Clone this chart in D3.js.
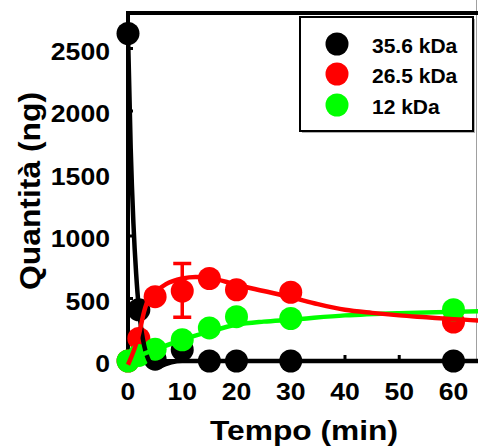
<!DOCTYPE html>
<html>
<head>
<meta charset="utf-8">
<style type="text/css">
body { margin: 0; background: #fff; }
text { font-family: "Liberation Sans", Arial, sans-serif; font-weight: bold; fill: #000; }
.fit { fill: none; stroke-width: 4.5; stroke-linejoin: round; }
</style>
<script src="https://d3js.org/d3.v7.min.js"></script>
</head>
<body>
<script type="text/javascript">
var width  = 478;
var height = 447;

// measured points (min, ng)
var tempo    = [0, 2, 5, 10, 15, 20, 30, 60];
var kda356   = [2620, 410, 15, 90, 0, 0, 0, 0];
var kda265   = [0, 180, 515, 560, 660, 570, 550, 312];
var kda12    = [0, 45, 95, 170, 265, 355, 340, 410];
var errT     = [10];
var errLo    = [350];
var errHi    = [780];

// fitted curves
var fitT356  = [0, 0.5, 1, 1.5, 2, 2.5, 3, 3.5, 4, 5, 6, 8, 10, 20, 66];
var fit356   = [2620, 1700, 1100, 700, 420, 240, 120, 40, -10, -50, -40, -10, 0, 0, 0];
var fitT265  = [0, 2, 3, 3.7, 5, 7, 10, 12.5, 15, 20, 25, 30, 35, 40, 45, 50, 55, 60, 66];
var fit265   = [-30, 210, 400, 490, 550, 615, 660, 672, 665, 610, 560, 510, 455, 410, 385, 365, 350, 335, 322];
var fitT12   = [0, 2, 5, 10, 15, 20, 25, 30, 40, 50, 60, 66];
var fit12    = [0, 40, 90, 170, 235, 290, 315, 330, 365, 383, 393, 399];

var xTicks   = [0, 10, 20, 30, 40, 50, 60];
var yTicks   = [0, 500, 1000, 1500, 2000, 2500];
var legNames = ["35.6 kDa", "26.5 kDa", "12 kDa"];
var colori   = ["#000000", "#ff0000", "#00ff00"];

var x = d3.scaleLinear().domain([0, 65]).range([128, 480.6]);
var y = d3.scaleLinear().domain([0, 2800]).range([361, 11]);

var svg = d3.select("body").append("svg").attr("width", width).attr("height", height);

// frame
svg.append("line").attr("x1", 476.5).attr("x2", 476.5).attr("y1", 0).attr("y2", 360)
	.attr("stroke", "#a0a0a0").attr("stroke-width", 1);
svg.append("path")
	.attr("d", "M" + width + "," + y(2785) + "H" + x(0) + "V" + y(0) + "H" + width)
	.attr("fill", "none").attr("stroke", "#000").attr("stroke-width", 4);

// ticks inside
svg.selectAll(".yt").data(yTicks).enter().append("line")
	.attr("x1", x(0)).attr("x2", x(0) + 5)
	.attr("y1", function(d){ return y(d); }).attr("y2", function(d){ return y(d); })
	.attr("stroke", "#000").attr("stroke-width", 3);
svg.selectAll(".xt").data(xTicks).enter().append("line")
	.attr("x1", function(d){ return x(d); }).attr("x2", function(d){ return x(d); })
	.attr("y1", y(0)).attr("y2", y(0) - 6)
	.attr("stroke", "#000").attr("stroke-width", 3);

svg.selectAll(".yl").data(yTicks).enter().append("text")
	.attr("x", 110).attr("y", function(d){ return y(d) + 11; })
	.attr("text-anchor", "end").attr("font-size", 24)
	.attr("textLength", function(d){ return String(d).length * 14.8; })
	.attr("lengthAdjust", "spacingAndGlyphs")
	.text(function(d){ return d; });
svg.selectAll(".xl").data(xTicks).enter().append("text")
	.attr("x", function(d){ return x(d); }).attr("y", 400)
	.attr("text-anchor", "middle").attr("font-size", 24)
	.attr("textLength", function(d){ return String(d).length * 14.8; })
	.attr("lengthAdjust", "spacingAndGlyphs")
	.text(function(d){ return d; });

svg.append("text").attr("x", 304).attr("y", 440).attr("text-anchor", "middle")
	.attr("font-size", 28).attr("textLength", 188).attr("lengthAdjust", "spacingAndGlyphs")
	.text("Tempo (min)");
svg.append("text").attr("transform", "translate(40,191) rotate(-90)").attr("text-anchor", "middle")
	.attr("font-size", 29).attr("textLength", 198).attr("lengthAdjust", "spacingAndGlyphs")
	.text("Quantità (ng)");

// points
var serie = [kda356, kda265, kda12];
serie.forEach(function(vals, k) {
	svg.selectAll(".p" + k).data(vals).enter().append("circle")
		.attr("cx", function(d, i){ return x(tempo[i]); })
		.attr("cy", function(d){ return y(d); })
		.attr("r", 11.5)
		.attr("fill", colori[k]);
	if (k == 1) {
		svg.selectAll(".eb").data(errT).enter().append("path")
			.attr("d", function(d, i){
				return "M" + x(d) + "," + y(errLo[i]) + "V" + y(errHi[i]) +
					"M" + (x(d) - 9) + "," + y(errHi[i]) + "h18" +
					"M" + (x(d) - 9) + "," + y(errLo[i]) + "h18";
			})
			.attr("fill", "none").attr("stroke", colori[1]).attr("stroke-width", 3.5);
	}
});

// fitted lines
var linea = d3.line()
	.x(function(d){ return x(d[0]); })
	.y(function(d){ return y(d[1]); })
	.curve(d3.curveMonotoneX);

svg.append("path").datum(d3.zip(fitT356, fit356)).attr("class", "fit")
	.attr("stroke", colori[0]).attr("d", linea);
svg.append("path").datum(d3.zip(fitT12, fit12)).attr("class", "fit")
	.attr("stroke", colori[2]).attr("d", linea);
svg.append("path").datum(d3.zip(fitT265, fit265)).attr("class", "fit")
	.attr("stroke", colori[1]).attr("d", linea);

// legend
svg.append("rect").attr("x", 302).attr("y", 19).attr("width", 173).attr("height", 114)
	.attr("fill", "#b0b0b0");
svg.append("rect").attr("x", 300).attr("y", 17).attr("width", 173).attr("height", 114)
	.attr("fill", "#fff").attr("stroke", "#000").attr("stroke-width", 2);
var legY = [44, 74, 105];
svg.selectAll(".lc").data(legNames).enter().append("circle")
	.attr("cx", 337).attr("cy", function(d, i){ return legY[i]; })
	.attr("r", 11.5).attr("fill", function(d, i){ return colori[i]; });
svg.selectAll(".lt").data(legNames).enter().append("text")
	.attr("x", 372).attr("y", function(d, i){ return legY[i] + 8.5; })
	.attr("font-size", 21)
	.text(function(d){ return d; });
</script>
</body>
</html>
